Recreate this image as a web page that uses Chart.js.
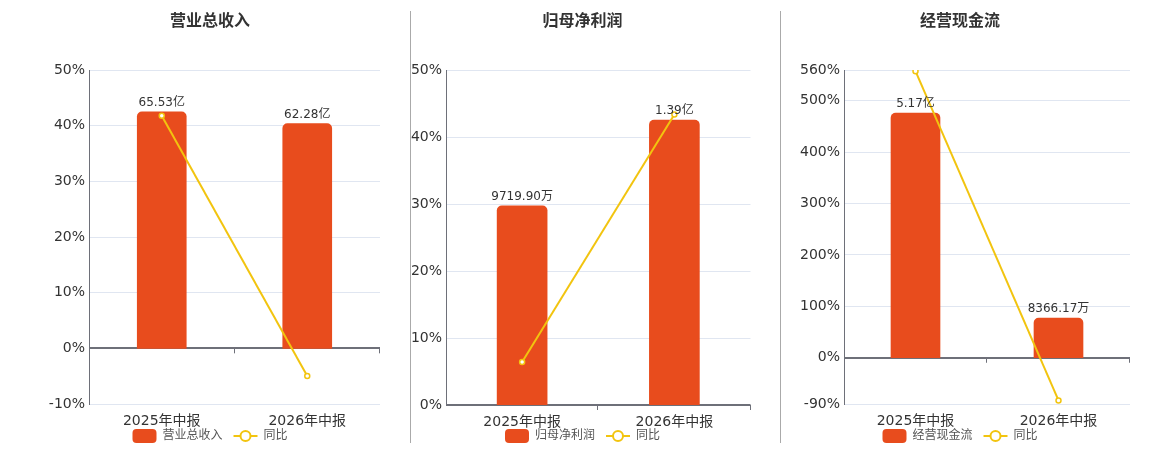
<!DOCTYPE html>
<html>
<head>
<meta charset="utf-8">
<script src="https://cdn.jsdelivr.net/npm/chart.js@4.4.1/dist/chart.umd.min.js"></script>
<style>
    body { margin: 0; background: #fff; }
    #wrap { position: relative; width: 1160px; height: 450px; }
    .panel { position: absolute; top: 0; height: 450px; }
    .sep { position: absolute; top: 11px; width: 1px; height: 432px; background: #aaa; }
</style>
</head>
<body>
<div id="wrap">
    <div class="sep" style="left:410px"></div>
    <div class="sep" style="left:780px"></div>
    <div class="panel" style="left:0;width:420px"><canvas id="c1"></canvas></div>
    <div class="panel" style="left:409px;width:347px"><canvas id="c2"></canvas></div>
    <div class="panel" style="left:781px;width:358px"><canvas id="c3"></canvas></div>
</div>
<script>
// datos
categories = ['2025年中报', '2026年中报'];

revenueValues = [65.53, 62.28];            // 亿
revenueLabels = ['65.53亿', '62.28亿'];
revenueYoy = [41.8, -4.96];
revenueTicks = [-10, 0, 10, 20, 30, 40, 50];

profitValues = [0.97199, 1.39];            // 亿
profitLabels = ['9719.90万', '1.39亿'];
profitYoy = [6.43, 43.35];
profitTicks = [0, 10, 20, 30, 40, 50];

cashValues = [5.17, 0.836617];             // 亿
cashLabels = ['5.17亿', '8366.17万'];
cashYoy = [557.7, -83.0];
cashTicks = [-90, 0, 100, 200, 300, 400, 500, 560];

const FONT = "'DejaVu Sans', 'Noto Sans CJK SC', sans-serif";
const BAR_COLOR = '#E84C1D';
const LINE_COLOR = '#F2C40F';
const AXIS_COLOR = '#6E7079';
const GRID_COLOR = '#E0E6F1';

// etiquetas sobre barras, marcas del eje en cero y leyenda
const extras = {
    id: 'extras',
    afterDatasetsDraw(chart, args, opts) {
        const ctx = chart.ctx;
        const x = chart.scales.x;
        const y = chart.scales.y;
        const zeroY = y.getPixelForValue(0);

        ctx.save();
        // marcas del eje x sobre la linea de cero
        ctx.strokeStyle = AXIS_COLOR;
        ctx.lineWidth = 1;
        const step = (x.right - x.left) / categories.length;
        for (let i = 1; i <= categories.length; i++) {
            const px = Math.round(x.left + i * step) - 0.5;
            ctx.beginPath();
            ctx.moveTo(px, zeroY);
            ctx.lineTo(px, zeroY + 5);
            ctx.stroke();
        }

        // etiquetas de barras
        const meta = chart.getDatasetMeta(0);
        ctx.fillStyle = '#333';
        ctx.font = '12px ' + FONT;
        ctx.textAlign = 'center';
        ctx.textBaseline = 'alphabetic';
        meta.data.forEach((bar, i) => {
            ctx.fillText(opts.labels[i], bar.x, bar.y - 6);
        });

        // leyenda
        ctx.font = '12px ' + FONT;
        const t1 = chart.data.datasets[0].label;
        const t2 = chart.data.datasets[1].label;
        const w1 = ctx.measureText(t1).width;
        const w2 = ctx.measureText(t2).width;
        const total = 24 + 6 + w1 + 11 + 24 + 6 + w2;
        let lx = chart.width / 2 - total / 2;
        const ly = 436;

        ctx.fillStyle = BAR_COLOR;
        ctx.beginPath();
        ctx.roundRect(lx, ly - 7, 24, 14, 4);
        ctx.fill();
        lx += 30;
        ctx.fillStyle = '#555';
        ctx.textAlign = 'left';
        ctx.textBaseline = 'middle';
        ctx.fillText(t1, lx, ly);
        lx += w1 + 11;

        ctx.strokeStyle = LINE_COLOR;
        ctx.lineWidth = 2;
        ctx.beginPath();
        ctx.moveTo(lx, ly);
        ctx.lineTo(lx + 24, ly);
        ctx.stroke();
        ctx.fillStyle = '#fff';
        ctx.beginPath();
        ctx.arc(lx + 12, ly, 5, 0, Math.PI * 2);
        ctx.fill();
        ctx.stroke();
        lx += 30;
        ctx.fillStyle = '#555';
        ctx.fillText(t2, lx, ly);
        ctx.restore();
    }
};

function makeChart(id, title, values, labels, yoy, ticks, cfg) {
    const ctx = document.getElementById(id);
    return new Chart(ctx, {
        type: 'bar',
        data: {
            labels: categories,
            datasets: [{
                type: 'bar',
                label: title,
                data: values,
                yAxisID: 'y1',
                backgroundColor: BAR_COLOR,
                borderRadius: 5,
                barThickness: cfg.barW,
                order: 2
            }, {
                type: 'line',
                label: '同比',
                data: yoy,
                yAxisID: 'y',
                borderColor: LINE_COLOR,
                borderWidth: 2,
                pointRadius: 2.5,
                pointBorderWidth: 1.5,
                pointBackgroundColor: '#fff',
                pointBorderColor: LINE_COLOR,
                tension: 0,
                order: 1
            }]
        },
        options: {
            responsive: true,
            maintainAspectRatio: false,
            animation: false,
            layout: { padding: 0 },
            plugins: {
                legend: { display: false },
                tooltip: { enabled: false },
                title: {
                    display: true,
                    text: title,
                    color: '#333',
                    font: { family: FONT, size: 16, weight: 'bold' },
                    padding: { top: 12, bottom: 38.8 }
                },
                extras: { labels: labels }
            },
            scales: {
                x: {
                    grid: { display: false },
                    border: { display: false },
                    ticks: { color: '#333', font: { family: FONT, size: 14 }, padding: 1 },
                    afterFit: (s) => { s.height = cfg.xH; }
                },
                y: {
                    position: 'left',
                    min: ticks[0],
                    max: ticks[ticks.length - 1],
                    afterBuildTicks: (s) => { s.ticks = ticks.map(v => ({ value: v })); },
                    afterFit: (s) => { s.width = cfg.yW; },
                    border: { display: true, color: AXIS_COLOR, width: 1 },
                    grid: {
                        drawTicks: false,
                        color: (c) => c.tick && c.tick.value === 0 ? AXIS_COLOR : GRID_COLOR,
                        lineWidth: (c) => c.tick && c.tick.value === 0 ? 2 : 1
                    },
                    ticks: {
                        color: '#333',
                        font: { family: FONT, size: 14 },
                        padding: 4,
                        callback: (v) => v + '%'
                    }
                },
                // eje oculto de las barras, solo reserva el margen derecho
                y1: {
                    position: 'right',
                    min: cfg.barMin,
                    max: cfg.barMax,
                    grid: { display: false },
                    border: { display: false },
                    ticks: { display: false },
                    afterFit: (s) => { s.width = cfg.padR; }
                }
            }
        },
        plugins: [extras]
    });
}

makeChart('c1', '营业总收入', revenueValues, revenueLabels, revenueYoy, revenueTicks,
    { barW: 49, padR: 40, yW: 89, xH: 46, barMin: -15.42, barMax: 77.1 });
makeChart('c2', '归母净利润', profitValues, profitLabels, profitYoy, profitTicks,
    { barW: 50, padR: 1, yW: 37, xH: 45, barMin: 0, barMax: 1.635 });
makeChart('c3', '经营现金流', cashValues, cashLabels, cashYoy, cashTicks,
    { barW: 49, padR: 9, yW: 63, xH: 46, barMin: -0.977, barMax: 6.08 });
</script>
</body>
</html>
